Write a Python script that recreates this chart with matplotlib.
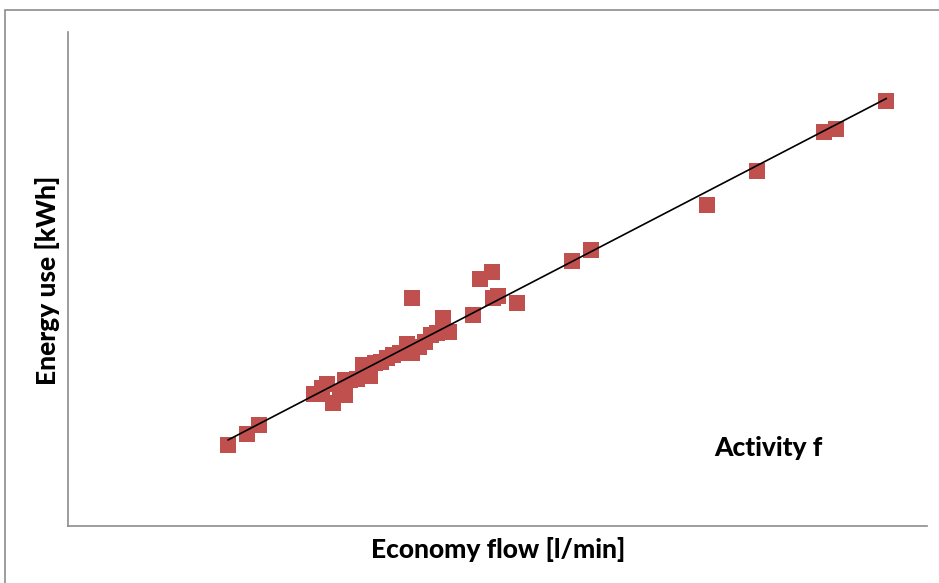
import matplotlib.pyplot as plt
import numpy as np
from matplotlib.patches import Rectangle

# measured points: economy flow vs energy use
flow = [3.73, 4.17, 4.45, 5.73, 5.82, 5.91, 6.03, 6.17, 6.33, 6.45, 6.45, 6.57,
        6.73, 6.87, 7.03, 7.15, 7.29, 7.43, 7.57, 7.73, 7.89, 8.01, 8.01, 8.17,
        8.31, 8.45, 8.59, 8.73, 8.87, 9.43, 9.59, 9.87, 9.90, 10.01, 10.45,
        11.73, 12.18, 14.88, 16.04, 17.60, 17.88, 19.05]
energy = [1.64, 1.86, 2.04, 2.67, 2.67, 2.79, 2.87, 2.49, 2.71, 2.65, 2.96, 2.96,
          2.98, 3.26, 3.04, 3.30, 3.32, 3.40, 3.46, 3.50, 3.68, 3.50, 4.62, 3.62,
          3.72, 3.87, 3.91, 4.21, 3.93, 4.27, 5.00, 5.14, 4.62, 4.66, 4.51,
          5.36, 5.59, 6.50, 7.19, 7.98, 8.04, 8.60]

flow = np.array(flow)
energy = np.array(energy)
slope, intercept = np.polyfit(flow, energy, 1)

fig = plt.figure(figsize=(9.39, 5.83), dpi=100)
ax = fig.add_axes([68 / 939, 1 - 526 / 583, (927 - 68) / 939, (526 - 32) / 583])

ax.scatter(flow, energy, marker="s", s=130, color="#C0504D", linewidths=0, zorder=2)
xs = np.array([flow.min(), flow.max()])
ax.plot(xs, slope * xs + intercept, color="black", lw=1.2, zorder=3)

ax.set_xlim(0, 20)
ax.set_ylim(0, 10)
ax.set_xticks([])
ax.set_yticks([])
for side in ["top", "right"]:
    ax.spines[side].set_visible(False)
for side in ["left", "bottom"]:
    ax.spines[side].set_color("#8c8c8c")
    ax.spines[side].set_linewidth(1.2)

font = dict(family="Lato", weight="black", size=19)
fig.text(498 / 939, 1 - 550 / 583, "Economy flow [l/min]", ha="center", va="center", **font)
fig.text(48 / 939, 1 - 280 / 583, "Energy use [kWh]", ha="center", va="center",
         rotation=90, **font)
fig.text(714 / 939, 1 - 448 / 583, "Activity f", ha="left", va="center", **font)

# outer frame
fig.patches.append(Rectangle((5 / 939, -0.1), 1.1, 1 - 10 / 583 + 0.1,
                             transform=fig.transFigure, fill=False,
                             edgecolor="#8c8c8c", linewidth=1.2))

fig.savefig("out.png", dpi=100)
